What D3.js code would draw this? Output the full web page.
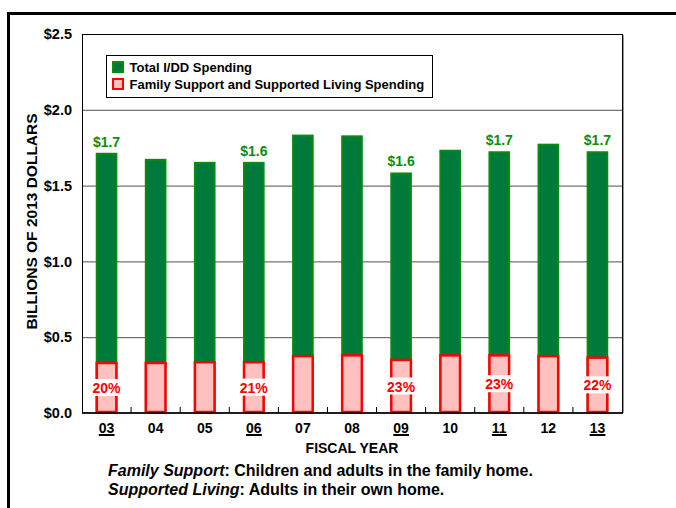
<!DOCTYPE html>
<html>
<head>
<meta charset="utf-8">
<script src="https://cdn.jsdelivr.net/npm/d3@7"></script>
<style>
  body { margin: 0; background: #fff; }
  text { font-family: "Liberation Sans", Arial, sans-serif; }
</style>
</head>
<body>
<div id="container"></div>
<script>
const WIDTH = 676;
const HEIGHT = 508;
const MARGIN = { top: 34, right: 54, bottom: 95, left: 82 };
const INNER_WIDTH = WIDTH - MARGIN.left - MARGIN.right;
const INNER_HEIGHT = HEIGHT - MARGIN.top - MARGIN.bottom;

// Data
const years = ['03', '04', '05', '06', '07', '08', '09', '10', '11', '12', '13'];
const totalSpending = [1.71, 1.67, 1.65, 1.65, 1.83, 1.825, 1.58, 1.73, 1.72, 1.77, 1.72];
const familySpending = [0.33, 0.33, 0.335, 0.335, 0.375, 0.38, 0.35, 0.38, 0.38, 0.375, 0.365];
const totalLabels = ['$1.7', '', '', '$1.6', '', '', '$1.6', '', '$1.7', '', '$1.7'];
const shareLabels = ['20%', '', '', '21%', '', '', '23%', '', '23%', '', '22%'];
const yTicks = [0, 0.5, 1.0, 1.5, 2.0, 2.5];
const legendItems = ['Total I/DD Spending', 'Family Support and Supported Living Spending'];

const GREEN_FILL = '#007a3a';
const GREEN_LINE = '#0a8a10';
const PINK_FILL = '#ffc0c0';
const RED = '#ff0000';

const root = d3.select('#container').append('svg')
    .attr('width', WIDTH)
    .attr('height', HEIGHT);

root.append('rect').attr('width', WIDTH).attr('height', HEIGHT).attr('fill', '#fff');

// Outer frame, runs off the right and bottom edges
root.append('rect')
    .attr('x', 8.5).attr('y', 13.5)
    .attr('width', 800).attr('height', 700)
    .attr('fill', 'none')
    .attr('stroke', '#000')
    .attr('stroke-width', 3);

const svg = root.append('g')
    .attr('transform', 'translate(' + MARGIN.left + ',' + MARGIN.top + ')');

// Scales
const x = d3.scaleBand().domain(years).range([0, INNER_WIDTH]).paddingInner(0.6).paddingOuter(0.3);
const y = d3.scaleLinear().domain([0, 2.5]).range([INNER_HEIGHT, 0]);

// Grid lines
svg.append('g')
    .attr('class', 'y axis-grid')
    .call(d3.axisLeft(y).tickValues(yTicks.slice(1, -1)).tickSize(-INNER_WIDTH).tickFormat(''))
    .call(g => g.select('.domain').remove())
    .call(g => g.selectAll('line').attr('stroke', '#505050'));

// Plot box (right edge with soft shadow)
svg.append('line')
    .attr('x1', INNER_WIDTH + 1.5).attr('x2', INNER_WIDTH + 1.5)
    .attr('y1', 1).attr('y2', INNER_HEIGHT)
    .attr('stroke', '#999');
svg.append('rect')
    .attr('x', 0.5).attr('y', 0.5)
    .attr('width', INNER_WIDTH).attr('height', INNER_HEIGHT - 0.5)
    .attr('fill', 'none')
    .attr('stroke', '#000');

// Total bars
svg.selectAll('.bar-total')
    .data(years)
    .enter().append('rect')
    .attr('class', 'bar-total')
    .attr('x', d => x(d))
    .attr('width', x.bandwidth())
    .attr('y', (d, i) => y(totalSpending[i]))
    .attr('height', (d, i) => y(0) - y(totalSpending[i]))
    .attr('fill', GREEN_FILL)
    .attr('stroke', GREEN_LINE)
    .attr('stroke-width', 2);

// Family support bars
svg.selectAll('.bar-family')
    .data(years)
    .enter().append('rect')
    .attr('class', 'bar-family')
    .attr('x', d => x(d))
    .attr('width', x.bandwidth())
    .attr('y', (d, i) => y(familySpending[i]))
    .attr('height', (d, i) => y(0) - y(familySpending[i]) - 1)
    .attr('fill', PINK_FILL)
    .attr('stroke', RED)
    .attr('stroke-width', 2.5);

// Total labels
svg.selectAll('.lbl-total')
    .data(years)
    .enter().append('text')
    .attr('class', 'lbl-total')
    .attr('x', d => x(d) + x.bandwidth() / 2)
    .attr('y', (d, i) => y(totalSpending[i]) - 7)
    .attr('text-anchor', 'middle')
    .attr('font-size', 14)
    .attr('font-weight', 'bold')
    .attr('fill', '#108a10')
    .text((d, i) => totalLabels[i]);

// Share labels with white background
const shares = svg.selectAll('.lbl-share')
    .data(years.filter((d, i) => shareLabels[i]))
    .enter().append('g')
    .attr('class', 'lbl-share')
    .attr('transform', d => {
        const i = years.indexOf(d);
        return 'translate(' + (x(d) + x.bandwidth() / 2) + ',' + y(familySpending[i] / 2) + ')';
    });
shares.append('rect')
    .attr('x', -16).attr('y', -9)
    .attr('width', 32).attr('height', 17)
    .attr('fill', '#fff');
shares.append('text')
    .attr('text-anchor', 'middle')
    .attr('dy', '0.36em')
    .attr('font-size', 14)
    .attr('font-weight', 'bold')
    .attr('fill', RED)
    .text(d => shareLabels[years.indexOf(d)]);

// X axis
const xAxis = svg.append('g')
    .attr('class', 'x axis')
    .attr('transform', 'translate(0,' + INNER_HEIGHT + ')');
xAxis.append('line')
    .attr('x1', 0).attr('x2', INNER_WIDTH + 1)
    .attr('stroke', '#000').attr('stroke-width', 1.5);
xAxis.selectAll('.tick-mark')
    .data(years.slice(1))
    .enter().append('line')
    .attr('x1', d => x(d) - x.step() * x.paddingInner() / 2)
    .attr('x2', d => x(d) - x.step() * x.paddingInner() / 2)
    .attr('y1', 0).attr('y2', -6)
    .attr('stroke', '#000');
const xLabels = xAxis.selectAll('.xlbl')
    .data(years)
    .enter().append('text')
    .attr('class', 'xlbl')
    .attr('x', d => x(d) + x.bandwidth() / 2)
    .attr('y', 20)
    .attr('text-anchor', 'middle')
    .attr('font-size', 14)
    .attr('font-weight', 'bold')
    .attr('fill', '#000')
    .text(d => d);
xLabels.each(function (d, i) {
    if (!totalLabels[i]) return;
    const b = this.getBBox();
    xAxis.append('rect')
        .attr('x', b.x).attr('y', 21)
        .attr('width', b.width).attr('height', 2)
        .attr('fill', '#000');
});

// Y axis labels
svg.selectAll('.ylbl')
    .data(yTicks)
    .enter().append('text')
    .attr('class', 'ylbl')
    .attr('x', -10)
    .attr('y', d => y(d))
    .attr('dy', '0.36em')
    .attr('text-anchor', 'end')
    .attr('font-size', 14.5)
    .attr('font-weight', 'bold')
    .attr('fill', '#000')
    .text(d => '$' + d.toFixed(1));

// Axis titles
svg.append('text')
    .attr('transform', 'translate(-45,' + (INNER_HEIGHT / 2 - 2) + ') rotate(-90)')
    .attr('text-anchor', 'middle')
    .attr('font-size', 15.5)
    .attr('font-weight', 'bold')
    .text('BILLIONS OF 2013 DOLLARS');
svg.append('text')
    .attr('x', INNER_WIDTH / 2)
    .attr('y', INNER_HEIGHT + 40)
    .attr('text-anchor', 'middle')
    .attr('font-size', 14)
    .attr('font-weight', 'bold')
    .text('FISCAL YEAR');

// Legend
const legend = svg.append('g').attr('transform', 'translate(24,21)');
legend.append('rect')
    .attr('x', 0.5).attr('y', 0.5)
    .attr('width', 326).attr('height', 42)
    .attr('fill', '#fff')
    .attr('stroke', '#000');
const legendRows = legend.selectAll('.lg')
    .data(legendItems)
    .enter().append('g')
    .attr('class', 'lg')
    .attr('transform', (d, i) => 'translate(7,' + (7 + i * 17) + ')');
legendRows.append('rect')
    .attr('width', 10).attr('height', 10)
    .attr('fill', (d, i) => i ? PINK_FILL : GREEN_FILL)
    .attr('stroke', (d, i) => i ? RED : GREEN_LINE)
    .attr('stroke-width', 2);
legendRows.append('text')
    .attr('x', 16.5)
    .attr('y', 5)
    .attr('dy', '0.36em')
    .attr('font-size', 13)
    .attr('font-weight', 'bold')
    .text(d => d);

// Footnote
const notes = [
    ['Family Support', ': Children and adults in the family home.'],
    ['Supported Living', ': Adults in their own home.']
];
root.selectAll('.note')
    .data(notes)
    .enter().append('text')
    .attr('class', 'note')
    .attr('x', 108)
    .attr('y', (d, i) => 476 + i * 19)
    .attr('font-size', 16)
    .attr('font-weight', 'bold')
    .each(function (d) {
        const t = d3.select(this);
        t.append('tspan').attr('font-style', 'italic').text(d[0]);
        t.append('tspan').text(d[1]);
    });
</script>
</body>
</html>
